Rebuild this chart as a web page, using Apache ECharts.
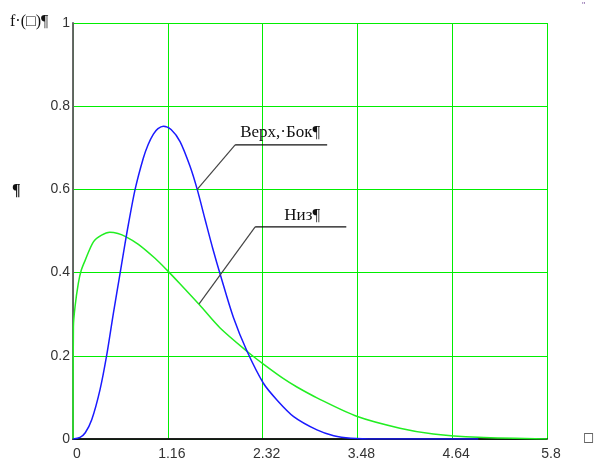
<!DOCTYPE html>
<html>
<head>
<meta charset="utf-8">
<script src="https://cdn.jsdelivr.net/npm/echarts@6/dist/echarts.min.js"></script>
<style>
  html, body { margin: 0; padding: 0; background: #fff; }
  #main { width: 595px; height: 459px; }
</style>
</head>
<body>
<div id="main"></div>
<script>
// ticks of the x axis (Mathcad style, step 1.16)
const xTicks = [0, 1.16, 2.32, 3.48, 4.64, 5.8];
const yTicks = [0, 0.2, 0.4, 0.6, 0.8, 1];

// "Верх, Бок" curve (blue)
const topX = [0, 0.086, 0.15, 0.229, 0.33, 0.413, 0.494, 0.576, 0.637, 0.677, 0.76, 0.86, 0.92, 0.984, 1.04, 1.106, 1.2, 1.31, 1.433, 1.52, 1.617, 1.71, 1.81, 1.963, 2.127, 2.33, 2.495, 2.7, 2.985, 3.19, 3.4, 3.7, 4.96];
const topY = [0, 0.004, 0.015, 0.046, 0.118, 0.202, 0.302, 0.398, 0.47, 0.515, 0.6, 0.675, 0.708, 0.733, 0.746, 0.752, 0.744, 0.715, 0.655, 0.6, 0.527, 0.458, 0.39, 0.292, 0.212, 0.134, 0.094, 0.054, 0.022, 0.008, 0.002, 0, 0];

// "Низ" curve (green)
const botX = [0, 0.005, 0.025, 0.065, 0.1, 0.15, 0.25, 0.35, 0.45, 0.55, 0.65, 0.8, 1.0, 1.15, 1.3, 1.55, 1.8, 2.147, 2.33, 2.576, 2.74, 2.985, 3.48, 4.0, 4.41, 4.96, 5.8];
const botY = [0, 0.27, 0.318, 0.374, 0.405, 0.43, 0.474, 0.49, 0.497, 0.494, 0.486, 0.468, 0.435, 0.406, 0.375, 0.322, 0.267, 0.208, 0.18, 0.145, 0.125, 0.099, 0.054, 0.026, 0.012, 0.004, 0];

const zip = (xs, ys) => xs.map((x, i) => [x, ys[i]]);

const chart = echarts.init(document.getElementById('main'));

const labelFont = { fontFamily: 'Liberation Sans', fontSize: 14, color: '#333' };

chart.setOption({
  animation: false,
  grid: { left: 73, right: 48, top: 23, bottom: 20, outerBoundsMode: 'none' },
  xAxis: [
    {
      type: 'value', min: 0, max: 5.8, interval: 1.16,
      axisLine: { show: true, onZero: false, lineStyle: { color: '#555', width: 1.5 } },
      axisTick: { show: false },
      splitLine: { show: true, lineStyle: { color: '#00ee00', width: 1 } },
      axisLabel: Object.assign({ margin: 8, padding: [0, 0, 0, 8], formatter: v => String(+v.toFixed(2)) }, labelFont)
    },
    {
      type: 'value', position: 'top', min: 0, max: 5.8, interval: 1.16,
      axisLine: { show: true, lineStyle: { color: '#000', width: 1.5 } },
      axisTick: { show: false }, axisLabel: { show: false }, splitLine: { show: false }
    }
  ],
  yAxis: [
    {
      type: 'value', min: 0, max: 1, interval: 0.2,
      axisLine: { show: true, onZero: false, lineStyle: { color: '#000', width: 1.5 } },
      axisTick: { show: false },
      splitLine: { show: true, lineStyle: { color: '#00ee00', width: 1 } },
      axisLabel: Object.assign({ margin: 3, padding: [4, 0, 0, 0], formatter: v => String(+v.toFixed(1)) }, labelFont)
    },
    {
      type: 'value', position: 'right', min: 0, max: 1, interval: 0.2,
      axisLine: { show: true, lineStyle: { color: '#777', width: 1.5 } },
      axisTick: { show: false }, axisLabel: { show: false }, splitLine: { show: false }
    }
  ],
  series: [
    {
      name: 'Низ', type: 'line', data: zip(botX, botY), showSymbol: false, smooth: 0.3,
      lineStyle: { color: '#22ee22', width: 1.5 }, z: 3
    },
    {
      name: 'Верх, Бок', type: 'line', data: zip(topX, topY), showSymbol: false, smooth: 0.3,
      lineStyle: { color: '#1a1aff', width: 1.5 }, z: 4
    }
  ]
});

// annotation anchors in data coordinates
const notes = [
  { text: 'Верх,·Бок¶', at: [1.52, 0.6], lineFrom: [1.984, 0.707], lineTo: [3.11, 0.707], textAt: [2.535, 0.737] },
  { text: 'Низ¶', at: [1.543, 0.325], lineFrom: [2.229, 0.51], lineTo: [3.344, 0.51], textAt: [2.805, 0.538] }
];

const px = p => chart.convertToPixel({ xAxisIndex: 0, yAxisIndex: 0 }, p);
const elements = [];
notes.forEach(n => {
  const a = px(n.at), b = px(n.lineFrom), c = px(n.lineTo), t = px(n.textAt);
  elements.push({ type: 'polyline', shape: { points: [a, b] }, style: { stroke: '#444', lineWidth: 1.2 }, z: 10 });
  elements.push({ type: 'line', shape: { x1: b[0], y1: b[1], x2: c[0], y2: c[1] }, style: { stroke: '#111', lineWidth: 1.2 }, z: 10 });
  elements.push({ type: 'text', x: t[0], y: t[1], style: { text: n.text, fontFamily: 'Liberation Serif', fontSize: 17, fill: '#111', align: 'center', verticalAlign: 'middle' }, z: 10 });
});
// Mathcad placeholders / format marks
elements.push({ type: 'text', x: 10, y: 22, style: { text: 'f·(□)¶', fontFamily: 'Liberation Serif', fontSize: 16, fill: '#111', verticalAlign: 'middle' } });
elements.push({ type: 'text', x: 12, y: 191, style: { text: '¶', fontFamily: 'Liberation Serif', fontSize: 16, fontWeight: 'bold', fill: '#111', verticalAlign: 'middle' } });
elements.push({ type: 'text', x: 583, y: 438, style: { text: '□', fontFamily: 'DejaVu Sans', fontSize: 12, fill: '#333', verticalAlign: 'middle' } });
elements.push({ type: 'text', x: 582, y: 6, style: { text: '"', fontFamily: 'Liberation Sans', fontSize: 9, fill: '#8866aa', verticalAlign: 'middle' } });
chart.setOption({ graphic: { elements } });
</script>
</body>
</html>
